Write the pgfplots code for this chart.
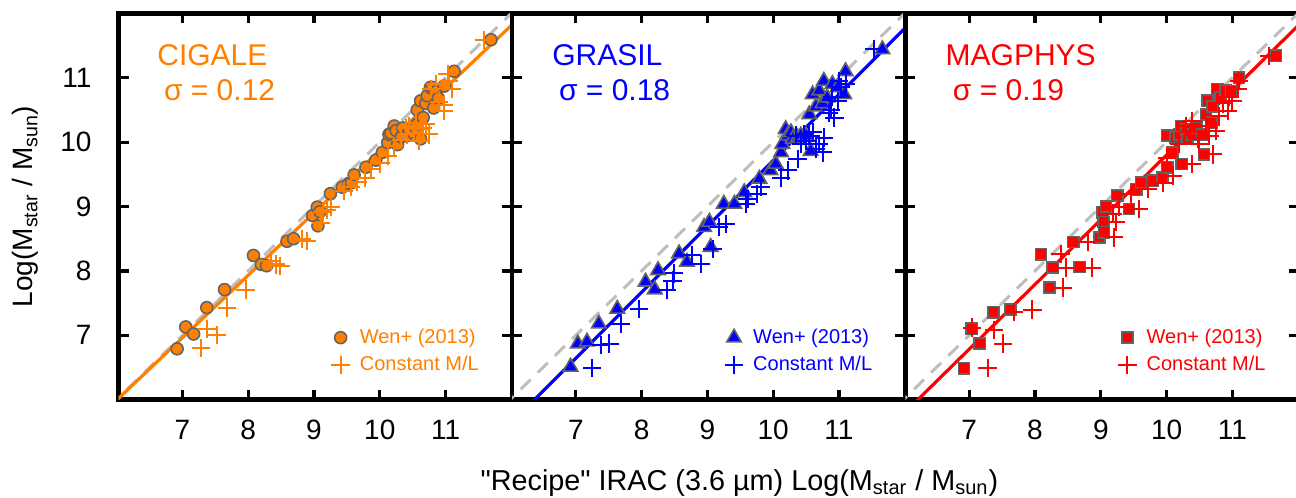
\documentclass[border=0pt]{standalone}
\usepackage{fontspec}
\setmainfont{Liberation Sans}
\usepackage{pgfplots}
\pgfplotsset{compat=1.18}
\usepackage{pgfplotstable}

\definecolor{cigale}{RGB}{255,128,0}
\definecolor{grasil}{RGB}{0,0,255}
\definecolor{magphys}{RGB}{255,0,0}
\definecolor{edge}{RGB}{100,100,100}
\definecolor{unitgray}{RGB}{190,190,190}

% CIGALE masses against the Wen+ (2013) recipe and against constant M/L
\pgfplotstableread{
x y
6.92 6.79
7.05 7.13
7.17 7.02
7.37 7.43
7.64 7.71
8.08 8.24
8.20 8.10
8.28 8.08
8.59 8.46
8.69 8.50
8.98 8.86
9.05 8.99
9.06 8.70
9.09 8.92
9.25 9.20
9.43 9.30
9.53 9.36
9.57 9.37
9.61 9.49
9.79 9.61
9.94 9.72
10.04 9.84
10.12 9.99
10.14 10.12
10.17 10.14
10.22 10.25
10.25 10.18
10.27 9.96
10.33 10.08
10.35 10.22
10.41 10.10
10.45 10.18
10.50 10.15
10.55 10.22
10.57 10.28
10.62 10.05
10.57 10.50
10.62 10.64
10.66 10.38
10.70 10.60
10.72 10.72
10.77 10.85
10.80 10.85
10.82 10.53
10.85 10.78
10.89 10.68
10.98 10.87
11.13 11.10
11.69 11.59
}\cigwen
\pgfplotstableread{
x y
7.28 6.80
7.38 7.10
7.52 7.00
7.68 7.43
7.96 7.71
8.34 8.16
8.42 8.10
8.49 8.08
8.82 8.50
8.89 8.46
9.11 8.75
9.13 8.92
9.20 8.95
9.26 8.99
9.46 9.24
9.56 9.30
9.66 9.38
9.78 9.44
9.86 9.58
10.01 9.67
10.12 9.79
10.22 9.94
10.32 10.04
10.40 10.22
10.42 10.12
10.45 10.25
10.52 10.14
10.55 10.30
10.60 10.02
10.62 10.20
10.65 10.22
10.70 10.28
10.75 10.12
10.78 10.82
10.85 10.90
10.90 10.63
10.98 10.58
10.98 10.48
11.03 11.05
11.05 10.95
11.10 10.82
11.59 11.59
}\cigml

% GRASIL
\pgfplotstableread{
x y
6.92 6.51
7.03 6.87
7.17 6.90
7.35 7.18
7.63 7.41
8.06 7.83
8.20 7.71
8.25 8.01
8.57 8.27
8.69 8.14
8.95 8.68
9.03 8.76
9.05 8.37
9.25 9.04
9.41 9.04
9.56 9.22
9.79 9.43
9.96 9.56
10.04 9.66
10.12 9.84
10.14 9.97
10.19 10.20
10.22 10.10
10.27 10.15
10.30 10.05
10.37 10.07
10.42 10.10
10.50 10.10
10.57 9.86
10.55 10.43
10.60 10.74
10.65 10.55
10.70 10.80
10.75 10.60
10.77 10.95
10.82 10.69
10.90 10.90
10.98 10.85
11.08 10.74
11.10 11.10
11.66 11.44
}\graswen
\pgfplotstableread{
x y
7.25 6.49
7.38 6.85
7.51 6.87
7.68 7.18
7.96 7.41
8.39 7.70
8.47 7.85
8.49 7.96
8.77 8.24
8.90 8.11
9.08 8.34
9.18 8.68
9.28 8.73
9.58 9.04
9.61 9.12
9.76 9.19
9.81 9.30
10.12 9.45
10.22 9.56
10.35 10.10
10.37 9.74
10.42 9.97
10.47 10.12
10.50 10.02
10.55 10.10
10.60 10.15
10.65 9.90
10.70 9.97
10.75 9.84
10.77 10.07
10.85 10.45
10.88 10.50
10.90 10.70
10.93 10.38
10.98 10.64
11.00 10.95
11.03 10.85
11.10 10.90
11.53 11.44
}\grasml

% MAGPHYS
\pgfplotstableread{
x y
6.92 6.49
7.04 7.10
7.16 6.87
7.37 7.36
7.63 7.40
8.09 8.26
8.22 7.74
8.27 8.05
8.58 8.45
8.68 8.06
8.98 8.52
9.03 8.91
9.04 8.76
9.05 8.60
9.08 9.00
9.25 9.17
9.43 8.96
9.54 9.27
9.61 9.37
9.79 9.40
9.94 9.45
10.01 9.61
10.09 9.84
10.23 9.66
10.01 10.10
10.14 10.07
10.20 10.12
10.22 10.25
10.30 10.20
10.32 10.05
10.39 10.12
10.45 10.22
10.55 10.12
10.57 9.81
10.60 10.43
10.62 10.64
10.68 10.30
10.70 10.55
10.77 10.82
10.82 10.69
10.90 10.80
10.98 10.79
11.10 11.00
11.66 11.34
}\magwen
\pgfplotstableread{
x y
7.04 7.12
7.28 6.49
7.38 7.08
7.51 6.87
7.68 7.36
7.96 7.40
8.39 8.26
8.42 7.74
8.47 8.05
8.80 8.45
8.87 8.05
9.18 8.89
9.20 8.52
9.23 8.76
9.28 9.00
9.46 9.19
9.58 8.96
9.71 9.27
9.94 9.37
10.01 9.76
10.09 9.48
10.19 9.97
10.30 10.25
10.35 10.15
10.39 9.66
10.39 10.33
10.48 10.05
10.50 9.97
10.60 10.25
10.65 10.10
10.70 9.81
10.75 10.17
10.80 10.40
10.85 10.60
10.93 10.48
10.95 10.70
11.00 10.64
11.08 10.82
11.10 10.95
11.56 11.34
}\magml

\pgfplotsset{
  sedpanel/.style={
    scale only axis,
    width=196.7pt, height=193.2pt,
    xmin=6.03, xmax=12.01, ymin=6.0, ymax=12.0,
    xtick={7,8,9,10,11}, ytick={7,8,9,10,11},
    tick align=inside, tick pos=both,
    axis line style={line width=2.4pt},
    major tick length=5pt,
    major tick style={black, line width=1.6pt},
    ticklabel style={font=\fontsize{14}{16}\selectfont},
    /pgf/number format/assume math mode=true,
    xticklabel style={yshift=-6.5pt},
    yticklabel style={xshift=-10pt},
    legend cell align=left,
    legend style={draw=none, fill=none, inner sep=0pt,
      at={(0.54,0.125)}, anchor=west,
      font=\fontsize{10}{12}\selectfont, row sep=1pt,
      /tikz/every odd column/.append style={column sep=3pt}},
  },
  unitline/.style={unitgray, line width=1.5pt, dash pattern=on 7pt off 5pt, forget plot},
  fitline/.style={line width=1.6pt, forget plot},
  crossmark/.style={only marks, mark=+, mark size=4.6pt, mark options={line width=1pt}},
}

\begin{document}
\begin{tikzpicture}
% CIGALE
\begin{axis}[sedpanel, at={(0pt,0pt)},
  legend style={text=cigale},
  ylabel={Log(M\textsubscript{star} / M\textsubscript{sun})},
  ylabel style={at={(axis description cs:-0.236,0.5)}, anchor=center,
    font=\fontsize{14}{16}\selectfont}]
  \addplot[unitline] coordinates {(5.9,5.9) (12.2,12.2)};
  \addplot[fitline, cigale] coordinates {(5.9,5.895) (12.2,12.006)};
  \addplot[only marks, mark=*, mark size=3pt,
    mark options={fill=cigale, draw=edge, line width=0.8pt}] table {\cigwen};
  \addlegendentry{Wen+ (2013)}
  \addplot[crossmark, cigale] table {\cigml};
  \addlegendentry{Constant M/L}
  \node[anchor=base west, text=cigale, font=\fontsize{15}{18}\selectfont]
    at (rel axis cs:0.0806,0.865) {CIGALE};
  \node[anchor=base west, text=cigale, font=\fontsize{15}{18}\selectfont]
    at (rel axis cs:0.0976,0.775) {σ = 0.12};
\end{axis}
% GRASIL
\begin{axis}[sedpanel, at={(196.7pt,0pt)}, yticklabels={},
  legend style={text=grasil},
  xlabel={\textquotedbl Recipe\textquotedbl{} IRAC (3.6 µm) Log(M\textsubscript{star} / M\textsubscript{sun})},
  xlabel style={at={(axis description cs:0.578,-0.2347)}, anchor=base,
    font=\fontsize{14.4}{16}\selectfont}]
  \addplot[unitline] coordinates {(5.9,5.9) (12.2,12.2)};
  \addplot[fitline, grasil] coordinates {(6.0,5.62) (12.2,11.97)};
  \addplot[only marks, mark=triangle*, mark size=4.2pt,
    mark options={fill=grasil, draw=edge, line width=0.8pt}] table {\graswen};
  \addlegendentry{Wen+ (2013)}
  \addplot[crossmark, grasil] table {\grasml};
  \addlegendentry{Constant M/L}
  \node[anchor=base west, text=grasil, font=\fontsize{15}{18}\selectfont]
    at (rel axis cs:0.0846,0.865) {GRASIL};
  \node[anchor=base west, text=grasil, font=\fontsize{15}{18}\selectfont]
    at (rel axis cs:0.1017,0.775) {σ = 0.18};
\end{axis}
% MAGPHYS
\begin{axis}[sedpanel, at={(393.4pt,0pt)}, yticklabels={},
  legend style={text=magphys}]
  \addplot[unitline] coordinates {(5.9,5.9) (12.2,12.2)};
  \addplot[fitline, magphys] coordinates {(6.0,5.78) (12.2,12.01)};
  \addplot[only marks, mark=square*, mark size=2.8pt,
    mark options={fill=magphys, draw=edge, line width=0.8pt}] table {\magwen};
  \addlegendentry{Wen+ (2013)}
  \addplot[crossmark, magphys] table {\magml};
  \addlegendentry{Constant M/L}
  \node[anchor=base west, text=magphys, font=\fontsize{15}{18}\selectfont]
    at (rel axis cs:0.0844,0.865) {MAGPHYS};
  \node[anchor=base west, text=magphys, font=\fontsize{15}{18}\selectfont]
    at (rel axis cs:0.103,0.775) {σ = 0.19};
\end{axis}
\pgfresetboundingbox
\path (-59.3pt,-48.85pt) rectangle (588.7pt,199.85pt);
\end{tikzpicture}
\end{document}
